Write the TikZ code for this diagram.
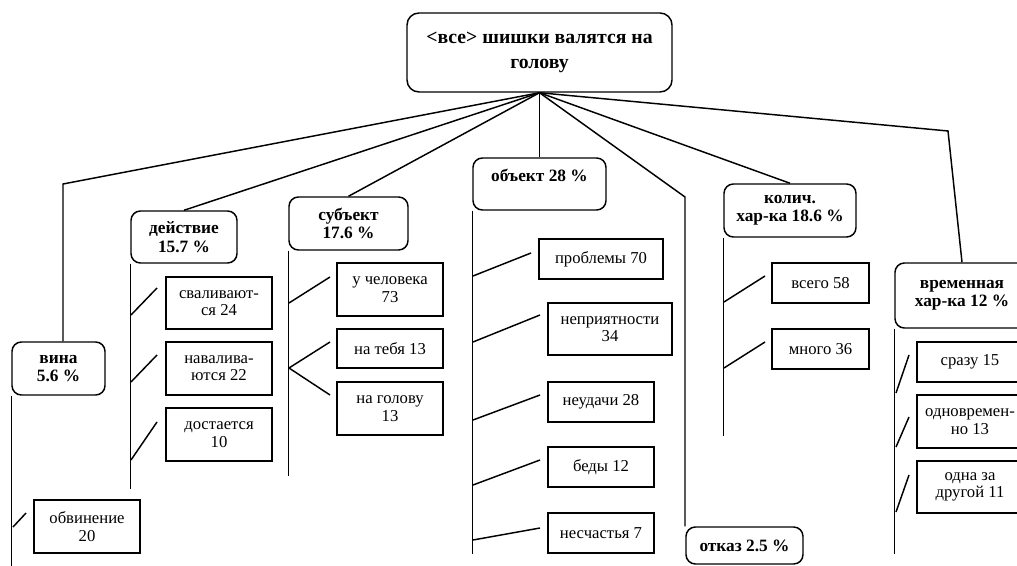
\documentclass[tikz,border=0pt]{standalone}
\usepackage{fontspec}
\setmainfont{Liberation Serif}
\usetikzlibrary{calc}

\begin{document}
\begin{tikzpicture}[x=0.75pt,y=-0.75pt,line width=1.1pt,
                    wh/.style 2 args={minimum width=#1*0.75pt,minimum height=#2*0.75pt},
                    root node/.style={draw,rounded corners=9pt,align=center,inner sep=0pt,
                                      font=\bfseries\fontsize{14.8}{18.8}\selectfont},
                    cat node/.style={draw,rounded corners=7pt,align=center,inner sep=0pt,
                                     font=\bfseries\fontsize{13}{13.8}\selectfont},
                    item node/.style={draw,align=center,inner sep=0pt,
                                      font=\fontsize{12.5}{13}\selectfont}]
  \useasboundingbox (0,0) rectangle (1017,566);
  \clip (0,0) rectangle (1017,566);

  \node[root node,wh={265}{79}] (root) at (539.5,52.5) {<все> шишки валятся на\\голову};

  % categories
  \node[cat node,wh={93}{53}]  (vina)     at (58.5,368.5)  {вина\\5.6 \%};
  \node[cat node,wh={106}{52}] (deistvie) at (184,237)     {действие\\15.7 \%};
  \node[cat node,wh={119}{53}] (subjekt)  at (348.5,223.5) {субъект\\17.6 \%};
  \node[cat node,wh={133}{52}] (objekt)   at (539.5,184)   {объект 28 \%\\\mbox{}};
  \node[cat node,wh={117}{37}] (otkaz)    at (744.5,545.5) {отказ 2.5 \%};
  \node[cat node,wh={132}{53}] (kolich)   at (790,210.5)   {колич.\\хар-ка 18.6 \%};
  \node[cat node,wh={134}{65}] (vremen)   at (962,295.5)   {временная\\хар-ка 12 \%};

  % items
  \node[item node,wh={106}{53}] (obvinenie)  at (87,526.5)  {обвинение\\20};
  \node[item node,wh={106}{52}] (svalivajut) at (219,303)   {сваливают-\\ся 24};
  \node[item node,wh={106}{53}] (navalivajut) at (219,368.5) {навалива-\\ются 22};
  \node[item node,wh={106}{53}] (dostaetsja) at (219,434.5) {достается\\10};
  \node[item node,wh={106}{53}] (uchel)      at (390,289.5) {у человека\\73};
  \node[item node,wh={106}{39}] (natebja)    at (390,348.5) {на тебя 13};
  \node[item node,wh={106}{53}] (nagolovu)   at (390,408.5) {на голову\\13};
  \node[item node,wh={124}{40}] (problemy)   at (601,259)   {проблемы 70};
  \node[item node,wh={124}{52}] (neprijat)   at (610,329)   {неприятности\\34};
  \node[item node,wh={106}{40}] (neudachi)   at (601,402)   {неудачи 28};
  \node[item node,wh={106}{40}] (bedy)       at (601,467)   {беды 12};
  \node[item node,wh={106}{40}] (neschastja) at (601,533)   {несчастья 7};
  \node[item node,wh={97}{40}]  (vsego)      at (820.5,283) {всего 58};
  \node[item node,wh={97}{40}]  (mnogo)      at (820.5,349) {много 36};
  \node[item node,wh={106}{40}] (srazu)      at (970,362)   {сразу 15};
  \node[item node,wh={106}{53}] (odnovrem)   at (970,421.5) {одновремен-\\но 13};
  \node[item node,wh={106}{52}] (odnaza)     at (970,487)   {одна за\\другой 11};

  % root to categories
  \coordinate (vinaBend) at (63,184);
  \coordinate (otkazBend) at (685,197);
  \coordinate (vremenBend) at (948,131);
  \draw (root.south) -- (vinaBend) -- (vinaBend |- vina.north);
  \draw (root.south) -- (deistvie.north);
  \draw (root.south) -- (subjekt.north);
  \draw (root.south) -- (objekt.north);
  \draw (root.south) -- (otkazBend) -- (otkazBend |- otkaz.north);
  \draw (root.south) -- (kolich.north);
  \draw (root.south) -- (vremenBend) -- (vremen.north);

  % spines
  \foreach \n/\l in {vina/171,deistvie/225,subjekt/225,objekt/343,kolich/198,vremen/225}
    \draw (\n.south west) -- ++(0,\l);

  % ticks
  \foreach \a/\b/\c/\d in {13/527/26/513,
                           131/315/157/288,131/382/157/355,131/460/157/422,
                           289/303/330/277,289/368/330/342,289/368/330/395,
                           473/276/531/253,473/342/540/315,473/420/540/395,473/485/540/460,473/540/540/528,
                           724/302/765/276,724/368/765/342,
                           896/393/909/355,896/447/909/417,896/512/909/475}
    \draw (\a,\b) -- (\c,\d);
\end{tikzpicture}
\end{document}
